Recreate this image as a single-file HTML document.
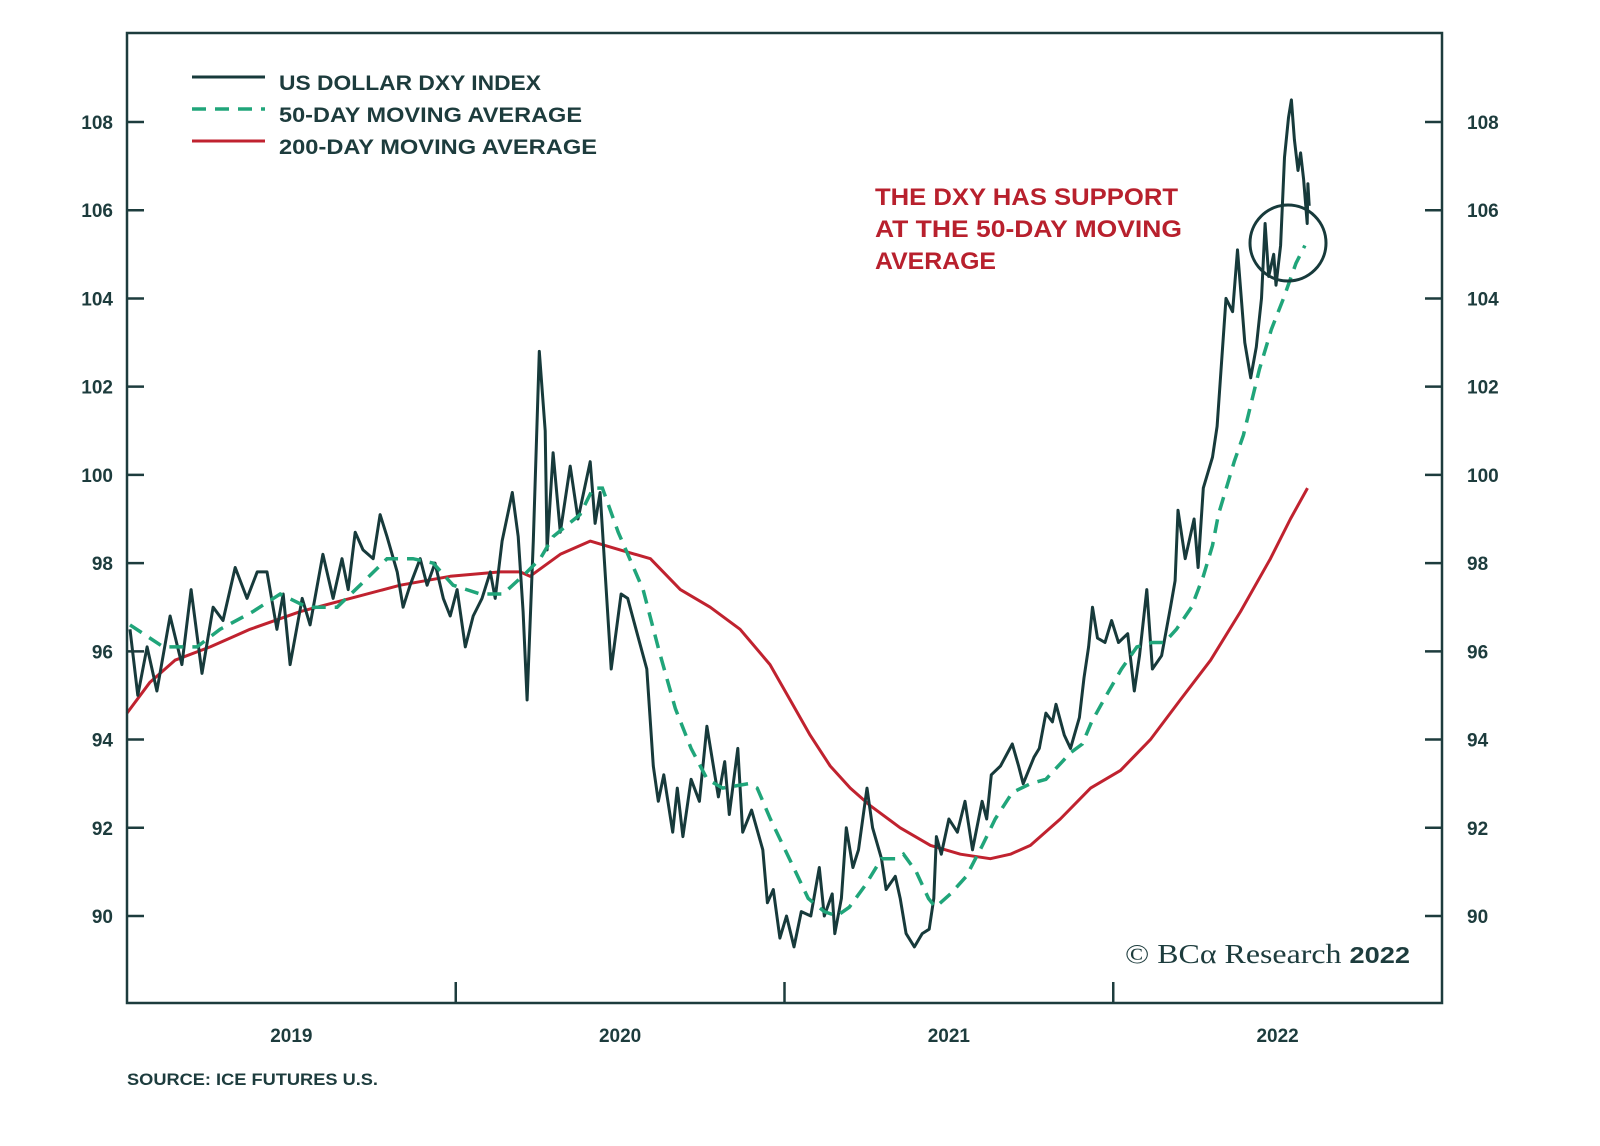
<!DOCTYPE html>
<html><head><meta charset="utf-8"><style>
html,body{margin:0;padding:0;background:#fff;}
svg{display:block;font-family:"Liberation Sans",sans-serif;}
</style></head><body>
<svg id="chart" width="1600" height="1146" viewBox="0 0 1600 1146" xmlns="http://www.w3.org/2000/svg">
<rect x="0" y="0" width="1600" height="1146" fill="#fff"/>
<g id="series"></g>
<rect x="127" y="33" width="1315" height="970" fill="none" stroke="#1d3c3d" stroke-width="2.5"/>
<g id="axes"></g>
<g>
<line x1="192" y1="77" x2="265" y2="77" stroke="#173a3b" stroke-width="3"/>
<text x="279" y="90" font-size="21" font-weight="bold" fill="#1d3c3d" textLength="262" lengthAdjust="spacingAndGlyphs">US DOLLAR DXY INDEX</text>
<line x1="192" y1="109" x2="265" y2="109" stroke="#20a57a" stroke-width="3.5" stroke-dasharray="14,9"/>
<text x="279" y="122" font-size="21" font-weight="bold" fill="#1d3c3d" textLength="303" lengthAdjust="spacingAndGlyphs">50-DAY MOVING AVERAGE</text>
<line x1="192" y1="141" x2="265" y2="141" stroke="#c0222f" stroke-width="3"/>
<text x="279" y="154" font-size="21" font-weight="bold" fill="#1d3c3d" textLength="318" lengthAdjust="spacingAndGlyphs">200-DAY MOVING AVERAGE</text>
</g>
<g fill="#b8202d" font-size="24" font-weight="bold">
<text x="875" y="205" textLength="303" lengthAdjust="spacingAndGlyphs">THE DXY HAS SUPPORT</text>
<text x="875" y="237" textLength="307" lengthAdjust="spacingAndGlyphs">AT THE 50-DAY MOVING</text>
<text x="875" y="269" textLength="121" lengthAdjust="spacingAndGlyphs">AVERAGE</text>
</g>
<circle cx="1288" cy="243" r="38" fill="none" stroke="#173a3b" stroke-width="3"/>
<text x="1125" y="963" font-family="Liberation Serif,serif" font-size="27" fill="#1d3c3d" textLength="285" lengthAdjust="spacingAndGlyphs">© BCα Research <tspan font-family="Liberation Sans,sans-serif" font-weight="bold" font-size="23">2022</tspan></text>
<text x="127" y="1085" font-size="17" font-weight="bold" fill="#1d3c3d" textLength="251" lengthAdjust="spacingAndGlyphs">SOURCE: ICE FUTURES U.S.</text>
</svg>
<script>
const yTicks=[90,92,94,96,98,100,102,104,106,108];
const years=["2019","2020","2021","2022"];
const dxyDates=[2019.009,2019.033,2019.061,2019.091,2019.131,2019.167,2019.195,2019.228,2019.262,2019.292,2019.329,2019.365,2019.396,2019.426,2019.456,2019.475,2019.496,2019.533,2019.557,2019.596,2019.627,2019.654,2019.673,2019.694,2019.718,2019.749,2019.770,2019.791,2019.822,2019.840,2019.861,2019.892,2019.913,2019.937,2019.962,2019.983,2020.004,2020.029,2020.053,2020.080,2020.105,2020.120,2020.141,2020.172,2020.190,2020.205,2020.217,2020.236,2020.254,2020.272,2020.278,2020.296,2020.318,2020.348,2020.372,2020.409,2020.424,2020.439,2020.473,2020.503,2020.523,2020.552,2020.581,2020.601,2020.616,2020.633,2020.660,2020.674,2020.691,2020.716,2020.741,2020.764,2020.799,2020.818,2020.832,2020.858,2020.873,2020.900,2020.934,2020.948,2020.966,2020.986,2021.006,2021.029,2021.051,2021.080,2021.106,2021.121,2021.145,2021.153,2021.173,2021.188,2021.208,2021.225,2021.251,2021.268,2021.295,2021.309,2021.337,2021.352,2021.370,2021.395,2021.419,2021.440,2021.454,2021.462,2021.477,2021.500,2021.526,2021.549,2021.572,2021.601,2021.615,2021.629,2021.657,2021.693,2021.712,2021.726,2021.759,2021.775,2021.795,2021.815,2021.826,2021.851,2021.870,2021.897,2021.911,2021.925,2021.937,2021.952,2021.975,2021.995,2022.016,2022.044,2022.064,2022.080,2022.102,2022.119,2022.147,2022.174,2022.188,2022.197,2022.219,2022.246,2022.258,2022.274,2022.302,2022.316,2022.343,2022.363,2022.378,2022.400,2022.418,2022.435,2022.451,2022.462,2022.473,2022.488,2022.495,2022.509,2022.521,2022.533,2022.542,2022.551,2022.562,2022.570,2022.579,2022.590,2022.592,2022.596];
const dxyValues=[96.5,95.0,96.1,95.1,96.8,95.7,97.4,95.5,97.0,96.7,97.9,97.2,97.8,97.8,96.5,97.3,95.7,97.2,96.6,98.2,97.2,98.1,97.4,98.7,98.3,98.1,99.1,98.6,97.8,97.0,97.5,98.1,97.5,98.0,97.2,96.8,97.4,96.1,96.8,97.2,97.8,97.2,98.5,99.6,98.6,96.9,94.9,98.5,102.8,101.0,98.3,100.5,98.7,100.2,99.0,100.3,98.9,99.6,95.6,97.3,97.2,96.4,95.6,93.4,92.6,93.2,91.9,92.9,91.8,93.1,92.6,94.3,92.7,93.5,92.3,93.8,91.9,92.4,91.5,90.3,90.6,89.5,90.0,89.3,90.1,90.0,91.1,90.0,90.5,89.6,90.4,92.0,91.1,91.5,92.9,92.0,91.3,90.6,90.9,90.4,89.6,89.3,89.6,89.7,90.4,91.8,91.4,92.2,91.9,92.6,91.5,92.6,92.2,93.2,93.4,93.9,93.4,93.0,93.6,93.8,94.6,94.4,94.8,94.1,93.8,94.5,95.4,96.1,97.0,96.3,96.2,96.7,96.2,96.4,95.1,95.9,97.4,95.6,95.9,97.0,97.6,99.2,98.1,99.0,97.9,99.7,100.4,101.1,104.0,103.7,105.1,103.0,102.2,102.9,104.0,105.7,104.5,105.0,104.3,105.2,107.2,108.1,108.5,107.6,106.9,107.3,106.7,105.7,106.6,106.1];
const ma50Dates=[2019.009,2019.110,2019.213,2019.283,2019.383,2019.466,2019.548,2019.639,2019.709,2019.791,2019.870,2019.931,2019.992,2020.074,2020.144,2020.217,2020.257,2020.296,2020.378,2020.418,2020.446,2020.494,2020.570,2020.619,2020.668,2020.716,2020.765,2020.812,2020.890,2020.917,2020.957,2021.015,2021.072,2021.121,2021.159,2021.197,2021.246,2021.295,2021.343,2021.362,2021.401,2021.438,2021.459,2021.505,2021.553,2021.602,2021.641,2021.693,2021.748,2021.795,2021.870,2021.906,2021.934,2021.979,2022.025,2022.072,2022.118,2022.156,2022.192,2022.238,2022.274,2022.302,2022.320,2022.340,2022.368,2022.396,2022.445,2022.481,2022.518,2022.556,2022.583];
const ma50Values=[96.6,96.1,96.1,96.5,96.9,97.3,97.0,97.0,97.5,98.1,98.1,98.0,97.5,97.3,97.3,97.8,98.1,98.6,99.1,99.7,99.7,98.7,97.4,96.0,94.7,93.8,93.1,92.9,93.0,92.9,92.2,91.3,90.4,90.1,90.0,90.2,90.7,91.3,91.3,91.4,91.0,90.4,90.2,90.5,90.9,91.6,92.2,92.8,93.0,93.1,93.7,93.9,94.4,95.0,95.6,96.1,96.2,96.2,96.5,97.0,97.7,98.4,99.1,99.6,100.3,100.9,102.4,103.3,104.0,104.8,105.2];
const ma200Dates=[2019.000,2019.070,2019.146,2019.253,2019.374,2019.527,2019.679,2019.831,2019.983,2020.135,2020.196,2020.226,2020.318,2020.409,2020.500,2020.592,2020.683,2020.774,2020.865,2020.956,2021.017,2021.078,2021.139,2021.200,2021.261,2021.352,2021.444,2021.535,2021.626,2021.687,2021.748,2021.839,2021.931,2022.022,2022.113,2022.204,2022.296,2022.387,2022.478,2022.539,2022.591];
const ma200Values=[94.6,95.3,95.8,96.1,96.5,96.9,97.2,97.5,97.7,97.8,97.8,97.7,98.2,98.5,98.3,98.1,97.4,97.0,96.5,95.7,94.9,94.1,93.4,92.9,92.5,92.0,91.6,91.4,91.3,91.4,91.6,92.2,92.9,93.3,94.0,94.9,95.8,96.9,98.1,99.0,99.7];

const L=127,R=1442,T=33,B=1003;
const xScale=d=>L+(d-2019)/4*(R-L);
const yScale=v=>122+(108-v)*(916-122)/18;
const NS="http://www.w3.org/2000/svg";
function mk(tag,attrs,parent){const e=document.createElementNS(NS,tag);for(const k in attrs)e.setAttribute(k,attrs[k]);parent.appendChild(e);return e;}
function pathD(ds,vs){return ds.map((d,i)=>(i?"L":"M")+xScale(d).toFixed(1)+","+yScale(vs[i]).toFixed(1)).join("");}
const series=document.getElementById("series");
const axes=document.getElementById("axes");
const p200=mk("path",{d:pathD(ma200Dates,ma200Values),fill:"none",stroke:"#c0222f","stroke-width":3,"stroke-linejoin":"round"},series);


const pDxy=mk("path",{d:pathD(dxyDates,dxyValues),fill:"none",stroke:"#173a3b","stroke-width":3,"stroke-linejoin":"round"},series);


const p50=mk("path",{d:pathD(ma50Dates,ma50Values),fill:"none",stroke:"#20a57a","stroke-width":3.5,"stroke-dasharray":"14,9"},series);


yTicks.forEach(v=>{
  const y=yScale(v);
  const t1=mk("line",{x1:L,x2:L+17,y1:y,y2:y,stroke:"#1d3c3d","stroke-width":2.5},axes);
  
  
  const t2=mk("line",{x1:R-17,x2:R,y1:y,y2:y,stroke:"#1d3c3d","stroke-width":2.5},axes);
  
  
  const a=mk("text",{x:113,y:y+7,"text-anchor":"end","font-size":19,"font-weight":"bold",fill:"#1d3c3d"},axes);
  a.textContent=v;
  
  
  const b=mk("text",{x:1467,y:y+7,"text-anchor":"start","font-size":19,"font-weight":"bold",fill:"#1d3c3d"},axes);
  b.textContent=v;
  
  
});
years.forEach((yr,i)=>{
  const s=2019+i;
  if(i>0){
    const tk=mk("line",{x1:xScale(s),x2:xScale(s),y1:B,y2:B-21,stroke:"#1d3c3d","stroke-width":2.5},axes);
    
    
  }
  const lb=mk("text",{x:xScale(s+0.5),y:1042,"text-anchor":"middle","font-size":19,"font-weight":"bold",fill:"#1d3c3d"},axes);
  lb.textContent=yr;
  
  
});
</script>
</body></html>
